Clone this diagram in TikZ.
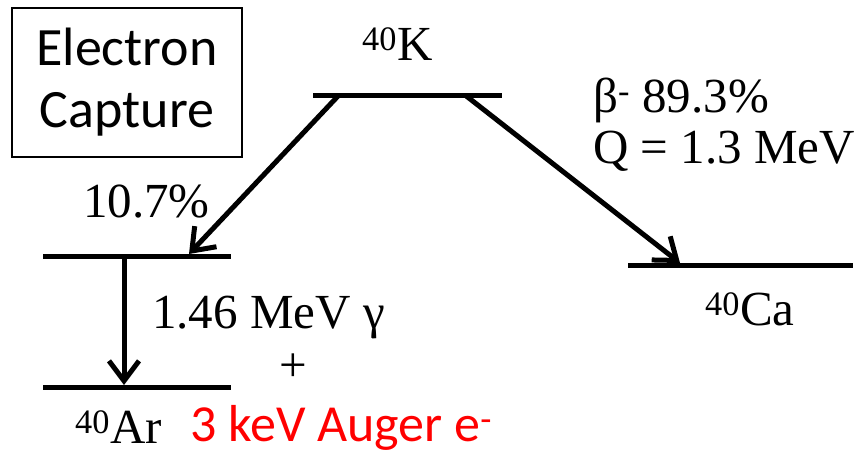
\documentclass[tikz,border=0pt]{standalone}
\usepackage{fontspec}
\setmainfont{Liberation Serif}
\newfontfamily\calib{Carlito}
\usetikzlibrary{arrows.meta}
\usepackage{xcolor}

\begin{document}
\begin{tikzpicture}[x=1pt,y=-1pt,
 lvl/.style={line width=5pt},
 decay/.style={line width=5pt,-{Straight Barb[length=20pt,width=30pt]}},
 lab/.style={font=\fontsize{49}{56}\selectfont,inner sep=0pt},
 ecbox/.style={draw,line width=2.5pt,align=center,font=\calib\fontsize{54}{62}\selectfont,
   minimum width=230pt,minimum height=149pt,inner sep=0pt}]
\useasboundingbox (0,0) rectangle (861,456);
% box
\node[ecbox] (ec) at (127,82.5) {Electron\\Capture};
% levels
\coordinate (kL) at (313,95);\coordinate (kR) at (502,95);
\coordinate (arxL) at (43,256);\coordinate (arxR) at (231,256);
\coordinate (argL) at (43,387);\coordinate (argR) at (231,387);
\coordinate (caL) at (628,265);\coordinate (caR) at (853,265);
\draw[lvl] (kL)--(kR);\draw[lvl] (arxL)--(arxR);
\draw[lvl] (argL)--(argR);\draw[lvl] (caL)--(caR);
% decays
\coordinate (ecS) at (339,95);\coordinate (ecE) at (189,254);
\coordinate (btS) at (465,95);\coordinate (btE) at (680,263);
\coordinate (gmS) at (124,256);\coordinate (gmE) at (124,385);
\draw[decay] (ecS)--(ecE);\draw[decay] (btS)--(btE);\draw[decay] (gmS)--(gmE);
% labels
\node[lab,anchor=base west] (k) at (362,60) {\textsuperscript{40}K};
\node[lab,anchor=base west] (ecp) at (83,217) {10.7\%};
\node[lab,anchor=base west] (bt) at (593,112) {β\textsuperscript{-} 89.3\%};
\node[lab,anchor=base west] (q) at (593,163) {Q = 1.3 MeV};
\node[lab,anchor=base west] (ca) at (705,325) {\textsuperscript{40}Ca};
\node[lab,anchor=base west] (gm) at (152,328) {1.46 MeV γ};
\node[lab,anchor=base] (plus) at (293,381) {+};
\node[lab,anchor=base west] (ar) at (75,443) {\textsuperscript{40}Ar};
\node[lab,anchor=base west,font=\calib\fontsize{52}{60}\selectfont,text=red] (aug) at (190,441) {3 keV Auger e\textsuperscript{-}};
\end{tikzpicture}
\end{document}
